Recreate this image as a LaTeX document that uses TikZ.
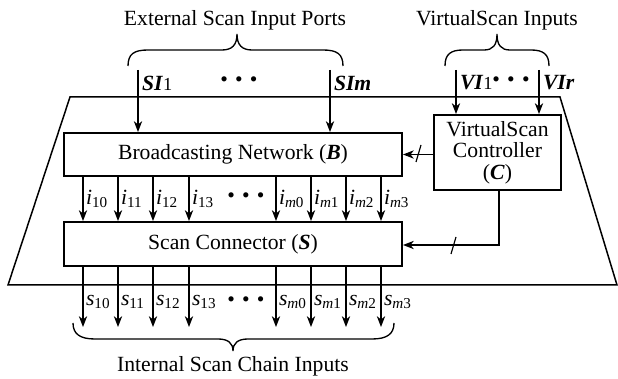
\documentclass[tikz,border=0pt]{standalone}
\usepackage{fontspec}
\setmainfont{Liberation Serif}
\usetikzlibrary{arrows.meta}
\begin{document}
\begin{tikzpicture}[x=0.6pt,y=-0.6pt, font=\fontsize{13}{15}\selectfont,
 arr/.style={-{Stealth[length=6.5pt,width=5pt,inset=2pt]}, line width=0.7pt},
 blk/.style={draw, line width=1.2pt, inner sep=0pt, anchor=center, fill=white},
 lbl/.style={anchor=west, inner sep=1pt},
 brc/.style={line width=0.8pt},
 slash/.style={line width=0.7pt}]
\useasboundingbox (0,0) rectangle (618,379);
% outer trapezoid
\draw[line width=0.9pt] (70,97) -- (560,97) -- (617,285) -- (8,285) -- cycle;
% blocks
\node[blk, minimum width=202.8pt, minimum height=25.8pt] (B) at (233,154.5) {Broadcasting Network (\textbf{\textit{B}})};
\node[blk, minimum width=202.8pt, minimum height=26.4pt] (S) at (233,244) {Scan Connector (\textbf{\textit{S}})};
\node[blk, minimum width=76.2pt, minimum height=45pt, align=center, font=\fontsize{13}{12.8}\selectfont] (C) at (497.5,152.5) {VirtualScan\\Controller\\(\textbf{\textit{C}})};
% top labels
\node (ext) at (235,20) {External Scan Input Ports};
\node (vsi) at (497,20) {VirtualScan Inputs};
\node (isc) at (233,366) {Internal Scan Chain Inputs};
% braces
\draw[brc] (128,66) .. controls (128,54) and (134,50) .. (148,50) -- (222,50)
  .. controls (232,50) and (237,45) .. (237,34)
  .. controls (237,45) and (242,50) .. (252,50) -- (323,50)
  .. controls (337,50) and (343,54) .. (343,66);
\draw[brc] (445,66) .. controls (445,54) and (451,50) .. (463,50) -- (484,50)
  .. controls (493,50) and (497,45) .. (497,34)
  .. controls (497,45) and (501,50) .. (510,50) -- (531,50)
  .. controls (543,50) and (549,54) .. (549,66);
\draw[brc] (73,323) .. controls (73,334) and (80,339) .. (95,339) -- (218,339)
  .. controls (228,339) and (233,343) .. (233,351)
  .. controls (233,343) and (238,339) .. (248,339) -- (372,339)
  .. controls (387,339) and (394,334) .. (394,323);
% external scan inputs
\coordinate (si1) at (138,70);
\coordinate (sim) at (330,70);
\draw[arr] (si1) -- (si1 |- B.north);
\draw[arr] (sim) -- (sim |- B.north);
\node[lbl] (lsi1) at (140,83) {\textbf{\textit{SI}}{\fontsize{11}{12}\selectfont 1}};
\node[lbl] (lsim) at (332,83) {\textbf{\textit{SIm}}};
\node (dtop) at (239,82) {•\,\,•\,\,•};
% virtual scan inputs
\coordinate (vi1) at (456,70);
\coordinate (vir) at (539,70);
\draw[arr] (vi1) -- (vi1 |- C.north);
\draw[arr] (vir) -- (vir |- C.north);
\node[lbl] (lvi1) at (458,83) {\textbf{\textit{VI}}{\fontsize{11}{12}\selectfont 1}};
\node[lbl] (lvir) at (541,83) {\textbf{\textit{VIr}}};
\node (dvi) at (511,82) {•\,\,•\,\,•};
% i and s arrows
\foreach \x/\n/\sub in {83/a/{1}0,118/b/{1}1,153/c/{1}2,189/d/{1}3,276/e/{\textit{m}}0,311/f/{\textit{m}}1,346/g/{\textit{m}}2,381/h/{\textit{m}}3}{
  \coordinate (t\n) at (\x,0);
  \draw[arr] (B.south -| t\n) -- (S.north -| t\n);
  \draw[arr] (S.south -| t\n) -- (\x,327);
  \node[lbl] (i\n) at (\x+1,199) {\textit{i}\textsubscript{\sub}};
  \node[lbl] (s\n) at (\x+1,302) {\textit{s}\textsubscript{\sub}};
}
\node (dmid) at (246,198) {•\,\,•\,\,•};
\node (dbot) at (246,302) {•\,\,•\,\,•};
% controller outputs
\draw[arr] (B.east -| C.west) -- (B.east);
\draw[slash] (416,162) -- (421,145);
\coordinate (cb) at (499,245);
\draw[arr] (C.south -| cb) -- (cb) -- (cb -| S.east);
\draw[slash] (451,254) -- (456,237);
\end{tikzpicture}
\end{document}
